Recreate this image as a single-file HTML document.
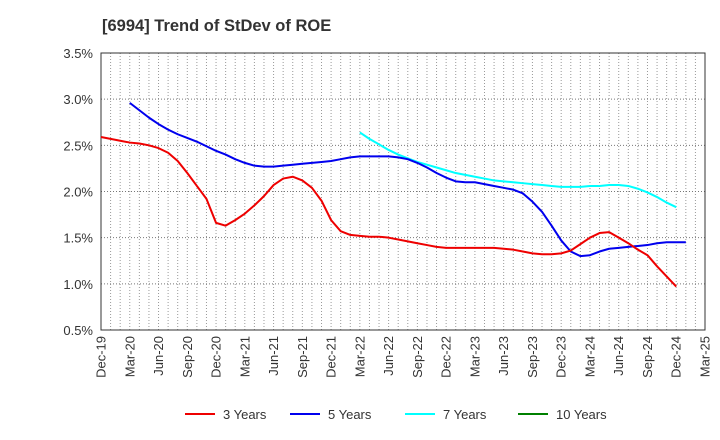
<!DOCTYPE html>
<html><head><meta charset="utf-8"><style>
body{margin:0;background:#fff;}
svg{display:block;font-family:"Liberation Sans",Arial,sans-serif;}
</style></head><body>
<svg id="chart" width="720" height="440" viewBox="0 0 720 440">
<text x="102" y="31" font-size="16.5" font-weight="bold" fill="#333">[6994]  Trend of StDev of ROE</text>
<g id="grid"></g>
<g id="axes"></g>
<g id="series"></g>
<g id="legend"></g>
</svg>
<script>
const xLabels=["Dec-19","Mar-20","Jun-20","Sep-20","Dec-20","Mar-21","Jun-21","Sep-21","Dec-21","Mar-22","Jun-22","Sep-22","Dec-22","Mar-23","Jun-23","Sep-23","Dec-23","Mar-24","Jun-24","Sep-24","Dec-24","Mar-25"];
const yTicks=[0.5,1.0,1.5,2.0,2.5,3.0,3.5];
const red3=[2.59,2.57,2.55,2.53,2.52,2.50,2.47,2.42,2.33,2.20,2.06,1.92,1.66,1.63,1.69,1.76,1.85,1.95,2.07,2.14,2.16,2.12,2.04,1.90,1.69,1.57,1.53,1.52,1.51,1.51,1.50,1.48,1.46,1.44,1.42,1.40,1.39,1.39,1.39,1.39,1.39,1.39,1.38,1.37,1.35,1.33,1.32,1.32,1.33,1.36,1.43,1.50,1.55,1.56,1.50,1.44,1.37,1.31,1.19,1.08,0.97];
const blue5Start=3;
const blue5=[2.96,2.88,2.80,2.73,2.67,2.62,2.58,2.54,2.49,2.44,2.40,2.35,2.31,2.28,2.27,2.27,2.28,2.29,2.30,2.31,2.32,2.33,2.35,2.37,2.38,2.38,2.38,2.38,2.37,2.35,2.31,2.26,2.20,2.15,2.11,2.10,2.10,2.08,2.06,2.04,2.02,1.98,1.89,1.78,1.63,1.47,1.35,1.30,1.31,1.35,1.38,1.39,1.40,1.41,1.42,1.44,1.45,1.45,1.45];
const cyan7Start=27;
const cyan7=[2.64,2.57,2.51,2.45,2.40,2.36,2.32,2.29,2.26,2.23,2.20,2.18,2.16,2.14,2.12,2.11,2.10,2.09,2.08,2.07,2.06,2.05,2.05,2.05,2.06,2.06,2.07,2.07,2.06,2.03,1.99,1.94,1.88,1.83];
const green10=[];
const seriesNames=["3 Years","5 Years","7 Years","10 Years"];

const NS="http://www.w3.org/2000/svg";
const L=101,R=705,T=53,B=330,months=63;
const x=m=>L+m*(R-L)/months;
const y=v=>B-(v-0.5)*(B-T)/3.0;
function mk(tag,attrs,parent){const e=document.createElementNS(NS,tag);for(const k in attrs)e.setAttribute(k,attrs[k]);parent.appendChild(e);return e;}
const grid=document.getElementById('grid'),axes=document.getElementById('axes'),ser=document.getElementById('series'),leg=document.getElementById('legend');
for(let m=1;m<months;m++){
  const g=mk('line',{x1:x(m),x2:x(m),y1:T,y2:B,stroke:'#999','stroke-width':1,'stroke-dasharray':'1,2'},grid);
  
  
}
yTicks.forEach(v=>{
  if(v>0.5&&v<3.5){const g=mk('line',{x1:L,x2:R,y1:y(v),y2:y(v),stroke:'#777','stroke-width':1,'stroke-dasharray':'1,2'},grid);
  
  }
  const t=mk('text',{x:L-8,y:y(v)+5,'text-anchor':'end','font-size':13,fill:'#333'},axes);
  t.textContent=v.toFixed(1)+'%';
  
  
});
const fr=mk('rect',{x:L,y:T,width:R-L,height:B-T,fill:'none',stroke:'#333','stroke-width':1},axes);


xLabels.forEach((lab,i)=>{
  const px=x(i*3);
  const t=mk('text',{x:0,y:0,'text-anchor':'end','font-size':13,fill:'#333',transform:`translate(${px+4.5},${B+6}) rotate(-90)`},axes);
  t.textContent=lab;
  
  
});
function line(vals,start,color,name){
  if(!vals.length)return;
  const d=vals.map((v,i)=>(i?'L':'M')+x(start+i).toFixed(2)+','+y(v).toFixed(2)).join('');
  const p=mk('path',{d:d,fill:'none',stroke:color,'stroke-width':2,'stroke-linejoin':'round'},ser);
  
  
}
line(cyan7,cyan7Start,'#00ffff','line-7-years');
line(blue5,blue5Start,'#0000ee','line-5-years');
line(red3,0,'#ee0000','line-3-years');
line(green10,0,'#008000','line-10-years');
const colors=['#ee0000','#0000ee','#00ffff','#008000'];
const lx=[185,290,405,518];
seriesNames.forEach((n,i)=>{
  const g=mk('g',{},leg);
  
  
  mk('line',{x1:lx[i],x2:lx[i]+30,y1:414,y2:414,stroke:colors[i],'stroke-width':2},g);
  const t=mk('text',{x:lx[i]+38,y:419,'font-size':13,fill:'#333'},g);
  t.textContent=n;
});
</script>
</body></html>
